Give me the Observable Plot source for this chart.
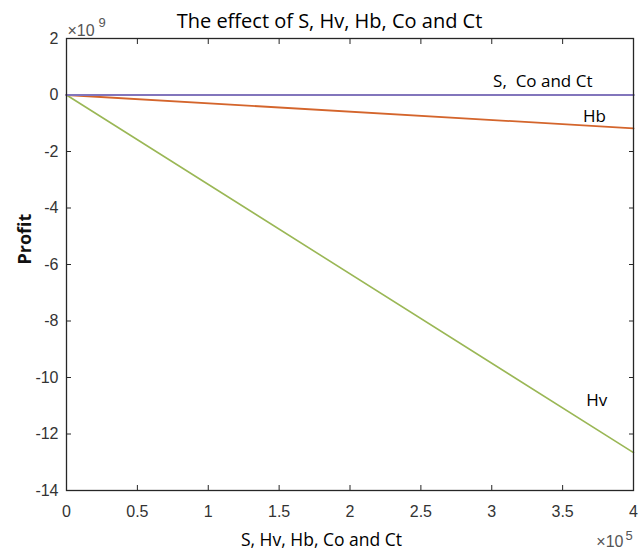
<!DOCTYPE html>
<html>
<head>
<meta charset="utf-8">
<script src="https://cdn.jsdelivr.net/npm/d3@7"></script>
<script src="https://cdn.jsdelivr.net/npm/@observablehq/plot@0.6"></script>
<style>
  html, body { margin: 0; padding: 0; background: #fff; }
  svg { display: block; }
</style>
</head>
<body>
<div id="chart"></div>
<script>
// Data
const xValues = [0, 400000];
const seriesNames = ["S", "Co", "Ct", "Hb", "Hv"];
const S  = [0, 0];
const Co = [0, 0];
const Ct = [0, 0];
const Hb = [0, -1.18e9];
const Hv = [0, -12.66e9];
const seriesColors = ["#6f63b0", "#8275bc", "#8275bc", "#d4652c", "#9ab755"];
const xTicks = [0, 50000, 100000, 150000, 200000, 250000, 300000, 350000, 400000];
const yTicks = [2e9, 0, -2e9, -4e9, -6e9, -8e9, -10e9, -12e9, -14e9];
const lineLabels = [
  {text: "S,  Co and Ct", x: 336000, y: 0.46e9},
  {text: "Hb", x: 372500, y: -0.75e9},
  {text: "Hv", x: 374000, y: -10.8e9}
];

const seriesData = [S, Co, Ct, Hb, Hv];
const rows = [];
seriesNames.forEach((name, i) => {
  xValues.forEach((x, j) => rows.push({series: name, x, y: seriesData[i][j]}));
});

const tickFont = "'Liberation Sans', Arial, sans-serif";
const textFont = "'Open Sans', 'Noto Sans', sans-serif";
const tickColor = "#333";

const chart = Plot.plot({
  width: 643,
  height: 549,
  marginLeft: 66,
  marginRight: 10,
  marginTop: 38,
  marginBottom: 59,
  style: {fontFamily: tickFont, background: "#fff"},
  x: {domain: [0, 400000]},
  y: {domain: [-14e9, 2e9]},
  color: {domain: seriesNames, range: seriesColors},
  marks: [
    Plot.axisX(xTicks, {anchor: "bottom", tickSize: -5, tickPadding: 20, tickFormat: d => String(d / 1e5), fontSize: 16, fill: tickColor, stroke: "#262626", label: null}),
    Plot.axisX(xTicks, {anchor: "top", tickSize: -5, text: null, stroke: "#262626", label: null}),
    Plot.axisY(yTicks, {anchor: "left", tickSize: -5, tickPadding: 13, tickFormat: d => String(d / 1e9), fontSize: 16, fill: tickColor, stroke: "#262626", label: null}),
    Plot.axisY(yTicks, {anchor: "right", tickSize: -5, text: null, stroke: "#262626", label: null}),
    Plot.line(rows.filter(d => d.series === "Hv"), {x: "x", y: "y", stroke: "series", strokeWidth: 1.6}),
    Plot.line(rows.filter(d => d.series === "Hb"), {x: "x", y: "y", stroke: "series", strokeWidth: 1.8}),
    Plot.line(rows.filter(d => ["S", "Co", "Ct"].includes(d.series)), {x: "x", y: "y", z: "series", stroke: "series", strokeWidth: 1.8}),
    Plot.frame({stroke: "#262626", strokeWidth: 1.3}),
    Plot.text(lineLabels, {x: "x", y: "y", text: "text", fontFamily: textFont, fontSize: 17, fontWeight: 500, fill: "#000"}),
    Plot.text(["The effect of S, Hv, Hb, Co and Ct"], {frameAnchor: "top", lineAnchor: "bottom", dx: -20.5, dy: -11, fontFamily: textFont, fontSize: 20, fontWeight: 500, fill: "#000"}),
    Plot.text(["S, Hv, Hb, Co and Ct"], {frameAnchor: "bottom", lineAnchor: "bottom", dx: -28.5, dy: 55, fontFamily: textFont, fontSize: 17.5, fontWeight: 500, fill: "#000"}),
    Plot.text(["Profit"], {frameAnchor: "left", dx: -41, dy: 0, rotate: -90, fontFamily: textFont, fontSize: 18, fontWeight: 700, fill: "#111"}),
    Plot.text(["×10"], {frameAnchor: "top-left", lineAnchor: "bottom", textAnchor: "start", dx: 1, dy: -3, fontFamily: tickFont, fontSize: 16, fill: "#555"}),
    Plot.text(["9"], {frameAnchor: "top-left", lineAnchor: "bottom", textAnchor: "start", dx: 32, dy: -12, fontFamily: tickFont, fontSize: 13, fill: "#555"}),
    Plot.text(["×10"], {frameAnchor: "bottom-right", lineAnchor: "bottom", textAnchor: "end", dx: -10, dy: 56.5, fontFamily: tickFont, fontSize: 16, fill: "#555"}),
    Plot.text(["5"], {frameAnchor: "bottom-right", lineAnchor: "bottom", textAnchor: "start", dx: -8, dy: 49, fontFamily: tickFont, fontSize: 13, fill: "#555"})
  ]
});
document.getElementById("chart").appendChild(chart);
</script>
</body>
</html>
